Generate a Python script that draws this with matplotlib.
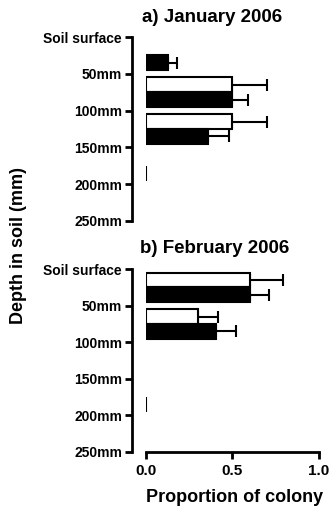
import matplotlib
matplotlib.use("Agg")
import matplotlib.pyplot as plt
import numpy as np

plt.rcParams['font.family'] = ['Liberation Sans', 'DejaVu Sans']
plt.rcParams['font.weight'] = 'bold'

# depth bins (mm), boundaries used as tick labels
depth_ticks = [0, 50, 100, 150, 200, 250]
depth_labels = ['Soil surface', '50mm', '100mm', '150mm', '200mm', '250mm']
bin_centres = [25, 75, 125, 175, 225]

# a) January 2006
jan_white = [np.nan, 0.50, 0.50, np.nan, np.nan]
jan_white_err = [0, 0.20, 0.20, 0, 0]
jan_black = [0.13, 0.50, 0.36, 0.0, np.nan]
jan_black_err = [0.05, 0.09, 0.12, 0, 0]

# b) February 2006
feb_white = [0.60, 0.30, np.nan, np.nan, np.nan]
feb_white_err = [0.19, 0.12, 0, 0, 0]
feb_black = [0.60, 0.405, np.nan, 0.0, np.nan]
feb_black_err = [0.11, 0.115, 0, 0, 0]

fig = plt.figure(figsize=(3.3, 5.12), dpi=100)
ax1 = fig.add_axes([0.4415, 0.5684, 0.5252, 0.3593])
ax2 = fig.add_axes([0.4415, 0.1172, 0.5252, 0.3574])


def draw(ax, white, white_err, black, black_err, show_x):
    yc = np.array(bin_centres, dtype=float)
    h = 20
    for vals, errs, off, fc in [(white, white_err, -10, 'white'),
                                (black, black_err, 10, 'black')]:
        vals = np.array(vals, dtype=float)
        errs = np.array(errs, dtype=float)
        ok = ~np.isnan(vals)
        ax.barh(yc[ok] + off, vals[ok], height=h, color=fc,
                edgecolor='black', linewidth=1.5, zorder=2)
        has = ok & (errs > 0)
        ax.errorbar(vals[has], yc[has] + off,
                    xerr=[np.zeros(has.sum()), errs[has]],
                    fmt='none', ecolor='black', elinewidth=1.5,
                    capsize=4.5, capthick=1.5, zorder=1)
    ax.set_ylim(250, 0)
    ax.set_xlim(0, 1.0)
    ax.set_yticks(depth_ticks)
    ax.set_yticklabels(depth_labels, fontsize=11, fontweight='bold')
    ax.spines['top'].set_visible(False)
    ax.spines['right'].set_visible(False)
    ax.spines['left'].set_position(('outward', 10))
    ax.spines['left'].set_linewidth(2)
    ax.tick_params(axis='y', length=5, width=2, pad=2)
    if show_x:
        ax.spines['bottom'].set_linewidth(2)
        ax.set_xticks([0, 0.5, 1.0])
        ax.set_xticklabels(['0.0', '0.5', '1.0'], fontsize=11, fontweight='bold')
        ax.tick_params(axis='x', length=5, width=2, pad=4)
    else:
        ax.spines['bottom'].set_visible(False)
        ax.set_xticks([])


draw(ax1, jan_white, jan_white_err, jan_black, jan_black_err, False)
draw(ax2, feb_white, feb_white_err, feb_black, feb_black_err, True)

fig.text(212 / 330, 0.965, 'a) January 2006', ha='center', va='center',
         fontsize=13.5, fontweight='bold')
fig.text(215 / 330, 0.514, 'b) February 2006', ha='center', va='center',
         fontsize=13.5, fontweight='bold')
fig.text(0.055, 0.52, 'Depth in soil (mm)', rotation=90, ha='center',
         va='center', fontsize=13, fontweight='bold')
fig.text(235 / 330, 0.029, 'Proportion of colony', ha='center', va='center',
         fontsize=13, fontweight='bold')

fig.savefig('out.png', dpi=100)
